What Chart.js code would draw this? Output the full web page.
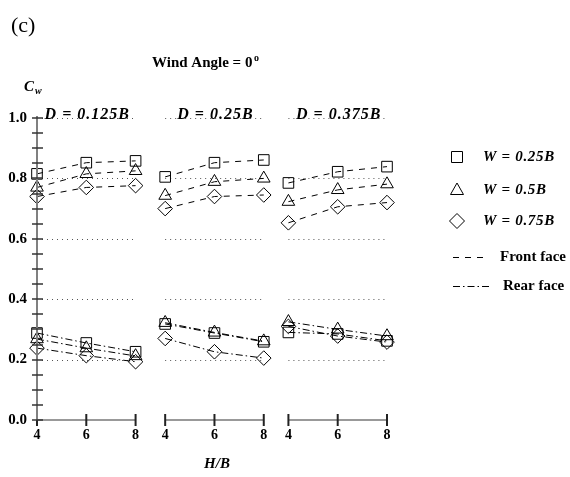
<!DOCTYPE html>
<html>
<head>
<meta charset="utf-8">
<script src="https://cdn.jsdelivr.net/npm/chart.js@4"></script>
<style>
  html, body { margin: 0; padding: 0; background: #fff; }
  #wrap { width: 570px; height: 477px; position: relative; }
</style>
</head>
<body>
<div id="wrap"><canvas id="cw"></canvas></div>
<script>
// H/B values on each panel's axis
const hbValues = [4, 6, 8];
const yTicks = [0.0, 0.2, 0.4, 0.6, 0.8, 1.0];
const panelLabels = ['D = 0.125B', 'D = 0.25B', 'D = 0.375B'];
// horizontal shift of each panel along the shared x scale
const panelOffsets = [0, 5.2, 10.2];
const widthLabels = ['W = 0.25B', 'W = 0.5B', 'W = 0.75B'];
const widthMarkers = ['rect', 'triangle', 'rectRot'];

// Cw per panel, rows: W = 0.25B, 0.5B, 0.75B
const frontD0125 = [[0.815, 0.852, 0.858], [0.770, 0.815, 0.825], [0.740, 0.770, 0.776]];
const frontD025  = [[0.805, 0.852, 0.861], [0.743, 0.789, 0.800], [0.700, 0.740, 0.745]];
const frontD0375 = [[0.785, 0.822, 0.839], [0.723, 0.762, 0.781], [0.653, 0.706, 0.720]];
const rearD0125  = [[0.288, 0.255, 0.226], [0.268, 0.238, 0.212], [0.238, 0.213, 0.193]];
const rearD025   = [[0.318, 0.288, 0.259], [0.322, 0.290, 0.261], [0.270, 0.226, 0.205]];
const rearD0375  = [[0.290, 0.285, 0.262], [0.325, 0.300, 0.278], [0.310, 0.278, 0.258]];

const frontFace = [frontD0125, frontD025, frontD0375];
const rearFace = [rearD0125, rearD025, rearD0375];

const SERIF = '"Liberation Serif", "DejaVu Serif", serif';
const FRONT_DASH = [6, 6];
const REAR_DASH = [7, 3, 1.5, 3];

const datasets = [];
panelOffsets.forEach((off, p) => {
    [[frontFace, FRONT_DASH], [rearFace, REAR_DASH]].forEach(([src, dash]) => {
        src[p].forEach((vals, w) => {
            datasets.push({
                data: vals.map((v, i) => ({ x: off + hbValues[i], y: v })),
                borderColor: '#000',
                borderWidth: 1,
                borderDash: dash,
                pointStyle: widthMarkers[w],
                pointRadius: widthMarkers[w] === 'rect' ? 7.5 : 7.3,
                pointBorderColor: '#000',
                pointBackgroundColor: 'rgba(0,0,0,0)',
                pointBorderWidth: 1,
                fill: false,
                clip: false
            });
        });
    });
});

const panelAxes = {
    id: 'panelAxes',
    beforeDatasetsDraw(chart) {
        const { ctx, scales: { x, y } } = chart;
        ctx.save();
        ctx.strokeStyle = '#555';
        ctx.lineWidth = 1;
        ctx.setLineDash([1, 4]);
        panelOffsets.forEach(off => {
            const x1 = x.getPixelForValue(off + 4), x2 = x.getPixelForValue(off + 8);
            yTicks.slice(1).forEach(t => {
                const py = Math.round(y.getPixelForValue(t)) + 0.5;
                ctx.beginPath();
                ctx.moveTo(x1, py); ctx.lineTo(x2, py);
                ctx.stroke();
            });
        });
        ctx.restore();
    },
    afterDraw(chart) {
        const { ctx, scales: { x, y } } = chart;
        const ax = x.getPixelForValue(4);
        const y0 = y.getPixelForValue(0);
        ctx.save();

        // x axis segments
        panelOffsets.forEach(off => {
            const x1 = x.getPixelForValue(off + 4), x2 = x.getPixelForValue(off + 8);
            ctx.strokeStyle = '#777'; ctx.lineWidth = 1.5;
            ctx.beginPath(); ctx.moveTo(x1, y0); ctx.lineTo(x2, y0); ctx.stroke();
            ctx.strokeStyle = '#222'; ctx.lineWidth = 2;
            ctx.fillStyle = '#000';
            ctx.font = 'bold 14px ' + SERIF;
            ctx.textAlign = 'center'; ctx.textBaseline = 'top';
            hbValues.forEach(h => {
                const px = x.getPixelForValue(off + h);
                ctx.beginPath(); ctx.moveTo(px, y0 - 6); ctx.lineTo(px, y0 + 6); ctx.stroke();
                ctx.fillText(String(h), px, y0 + 8);
            });
        });

        // y axis with minor ticks every 0.05
        ctx.strokeStyle = '#808080'; ctx.lineWidth = 2;
        ctx.beginPath(); ctx.moveTo(ax, y0); ctx.lineTo(ax, y.getPixelForValue(1) - 2); ctx.stroke();
        ctx.strokeStyle = '#333'; ctx.lineWidth = 1.5;
        for (let i = 0; i <= 20; i++) {
            const py = Math.round(y.getPixelForValue(i * 0.05));
            ctx.beginPath(); ctx.moveTo(ax - 5, py); ctx.lineTo(ax + 6, py); ctx.stroke();
        }
        ctx.fillStyle = '#000';
        ctx.font = 'bold 15px ' + SERIF;
        ctx.textAlign = 'right'; ctx.textBaseline = 'middle';
        yTicks.forEach(t => ctx.fillText(t.toFixed(1), ax - 10, y.getPixelForValue(t)));

        // panel captions
        ctx.font = 'italic bold 16px ' + SERIF;
        ctx.letterSpacing = '1px';
        ctx.textAlign = 'center'; ctx.textBaseline = 'alphabetic';
        panelOffsets.forEach((off, p) => {
            ctx.fillText(panelLabels[p], x.getPixelForValue(off + 6) + 1, y.getPixelForValue(1) + 1);
        });
        ctx.letterSpacing = '0px';

        // axis titles
        ctx.font = 'italic bold 15px ' + SERIF;
        ctx.fillText('H/B', 217, 468);
        ctx.textAlign = 'left';
        ctx.fillText('C', 24, 91);
        ctx.font = 'italic bold 10px ' + SERIF;
        ctx.fillText('w', 35, 94);

        // heading
        ctx.font = 'bold 15px ' + SERIF;
        const head = 'Wind Angle = 0';
        ctx.fillText(head, 152, 67);
        const hw = ctx.measureText(head).width;
        ctx.font = 'bold 10px ' + SERIF;
        ctx.fillText('o', 152 + hw + 1.5, 61);
        ctx.font = '22px ' + SERIF;
        ctx.fillText('(c)', 11, 32);

        // legend
        const lx = 457;
        ctx.strokeStyle = '#000'; ctx.lineWidth = 1;
        ctx.beginPath(); ctx.rect(lx - 5.5, 151.5, 11, 11); ctx.stroke();
        ctx.beginPath();
        ctx.moveTo(lx, 183); ctx.lineTo(lx + 6.5, 194.5); ctx.lineTo(lx - 6.5, 194.5); ctx.closePath();
        ctx.stroke();
        ctx.beginPath();
        ctx.moveTo(lx - 7.5, 221); ctx.lineTo(lx, 213.5); ctx.lineTo(lx + 7.5, 221); ctx.lineTo(lx, 228.5); ctx.closePath();
        ctx.stroke();
        ctx.font = 'italic bold 15px ' + SERIF;
        ctx.letterSpacing = '0.7px';
        ctx.textBaseline = 'middle';
        widthLabels.forEach((t, i) => ctx.fillText(t, 483, [157, 190, 221][i]));
        ctx.letterSpacing = '0px';

        ctx.setLineDash(FRONT_DASH);
        ctx.beginPath(); ctx.moveTo(453, 257.5); ctx.lineTo(489, 257.5); ctx.stroke();
        ctx.setLineDash(REAR_DASH);
        ctx.beginPath(); ctx.moveTo(453, 286.5); ctx.lineTo(489, 286.5); ctx.stroke();
        ctx.setLineDash([]);
        ctx.font = 'bold 15px ' + SERIF;
        ctx.fillText('Front face', 500, 257);
        ctx.fillText('Rear face', 503, 286);
        ctx.restore();
    }
};

new Chart(document.getElementById('cw'), {
    type: 'line',
    data: { datasets },
    plugins: [panelAxes],
    options: {
        responsive: true,
        maintainAspectRatio: false,
        animation: false,
        layout: { padding: { left: 37, right: 183, top: 118, bottom: 57 } },
        scales: {
            x: { type: 'linear', min: 4, max: 18.2, display: false },
            y: { min: 0, max: 1, display: false }
        },
        plugins: { legend: { display: false }, tooltip: { enabled: false } }
    }
});
</script>
</body>
</html>
